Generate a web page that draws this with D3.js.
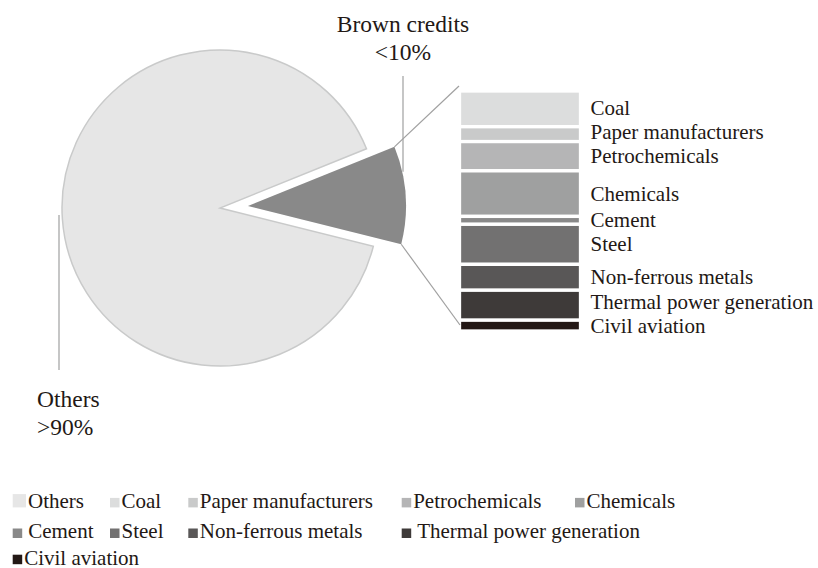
<!DOCTYPE html>
<html>
<head>
<meta charset="utf-8">
<script src="https://cdn.jsdelivr.net/npm/d3@7/dist/d3.min.js"></script>
<style>
  body { margin: 0; background: #fff; }
  text { font-family: "Liberation Serif", "Times New Roman", serif; fill: #231815; }
</style>
</head>
<body>
<div id="chart"></div>
<script>
// Pie slices
var sliceNames = ["Brown credits", "Others"];
var sliceValues = [10, 90];
var sliceShares = ["<10%", ">90%"];

// Breakdown of brown credits (percent of all credits)
var sectorNames = ["Coal", "Paper manufacturers", "Petrochemicals", "Chemicals", "Cement",
  "Steel", "Non-ferrous metals", "Thermal power generation", "Civil aviation"];
var sectorValues = [1.49, 0.62, 1.22, 1.90, 0.33, 1.67, 1.08, 1.25, 0.45];

// Legend entries
var legendNames = ["Others"].concat(sectorNames);

var width = 818, height = 568;

var color = d3.scaleOrdinal()
  .domain(["Others", "Brown credits"].concat(sectorNames))
  .range(["#e6e6e6", "#898989", "#dcdddd", "#c9caca", "#b5b5b6", "#9fa0a0", "#898989",
    "#727171", "#595757", "#3e3a39", "#231815"]);

var svg = d3.select("#chart").append("svg")
  .attr("width", width)
  .attr("height", height);

// Pie geometry
var cx = 220, cy = 208, radius = 158, explode = 28;
var start = 68 * Math.PI / 180;

var pie = d3.pie().sort(null).value(function(d) { return d.value; })
  .startAngle(start).endAngle(start + 2 * Math.PI);
var arc = d3.arc().innerRadius(0).outerRadius(radius);

var pieData = pie(sliceNames.map(function(n, i) {
  return { name: n, value: sliceValues[i], share: sliceShares[i] };
}));

function offset(d) {
  if (d.data.name !== "Brown credits") return [0, 0];
  var a = (d.startAngle + d.endAngle) / 2;
  return [explode * Math.sin(a), -explode * Math.cos(a)];
}

var pieG = svg.append("g").attr("transform", "translate(" + cx + "," + cy + ")");
pieG.selectAll("path").data(pieData).enter().append("path")
  .attr("transform", function(d) { return "translate(" + offset(d) + ")"; })
  .attr("d", arc)
  .attr("fill", function(d) { return color(d.data.name); })
  .attr("stroke", function(d) { return d.data.name === "Others" ? "#c9caca" : "none"; })
  .attr("stroke-width", 1.5);

var brown = pieData[0];
var bOff = offset(brown);
var apexX = cx + bOff[0], apexY = cy + bOff[1];

// Bar of brown credits
var barX = 459.5, barW = 121;
var total = d3.sum(sectorValues);
var yScale = d3.scaleLinear().domain([0, total]).range([91, 331]);
var cum = d3.cumsum(sectorValues);
var segs = sectorNames.map(function(n, i) {
  return { name: n, y0: cum[i] - sectorValues[i], y1: cum[i] };
});

svg.append("g").selectAll("rect").data(segs).enter().append("rect")
  .attr("x", barX)
  .attr("width", barW)
  .attr("y", function(d) { return yScale(d.y0); })
  .attr("height", function(d) { return yScale(d.y1) - yScale(d.y0); })
  .attr("fill", function(d) { return color(d.name); })
  .attr("stroke", "#fff")
  .attr("stroke-width", 3.3);

// Connector lines from slice edges to the bar
function edgePoint(a) {
  return [apexX + radius * Math.sin(a), apexY - radius * Math.cos(a)];
}
var pTop = edgePoint(brown.startAngle), pBot = edgePoint(brown.endAngle);
svg.append("line")
  .attr("x1", pTop[0]).attr("y1", pTop[1])
  .attr("x2", barX - 0.5).attr("y2", yScale(0) - 5)
  .attr("stroke", "#a0a0a0").attr("stroke-width", 1.2);
svg.append("line")
  .attr("x1", pBot[0]).attr("y1", pBot[1])
  .attr("x2", barX + 0.5).attr("y2", yScale(total) - 6)
  .attr("stroke", "#a0a0a0").attr("stroke-width", 1.2);

// Bar labels, pushed up from the bottom when they collide
var labelSize = 21, minGap = 24;
var labelY = segs.map(function(d) { return (yScale(d.y0) + yScale(d.y1)) / 2; });
for (var i = labelY.length - 2; i >= 0; i--) {
  if (labelY[i + 1] - labelY[i] < minGap) labelY[i] = labelY[i + 1] - minGap;
}
svg.append("g").selectAll("text").data(segs).enter().append("text")
  .attr("x", barX + barW + 10)
  .attr("y", function(d, i) { return labelY[i] + labelSize * 0.33; })
  .style("font-size", labelSize + "px")
  .text(function(d) { return d.name; });

// Pie labels with leader lines
var pieLabelSize = 23.5;
var brownLx = 403;
var cosT = (brownLx - apexX) / radius;
var brownArcY = apexY - radius * Math.sqrt(1 - cosT * cosT);
svg.append("line")
  .attr("x1", brownLx).attr("y1", 76)
  .attr("x2", brownLx).attr("y2", brownArcY - 4)
  .attr("stroke", "#9fa0a0").attr("stroke-width", 1.2);
var bText = svg.append("text")
  .attr("x", brownLx).attr("text-anchor", "middle")
  .style("font-size", pieLabelSize + "px");
bText.append("tspan").attr("x", brownLx).attr("y", 32).text(brown.data.name);
bText.append("tspan").attr("x", brownLx).attr("y", 60).text(brown.data.share);

var others = pieData[1];
var othersLx = cx - radius - 3;
svg.append("line")
  .attr("x1", othersLx).attr("y1", cy + 7)
  .attr("x2", othersLx).attr("y2", cy + radius + 4)
  .attr("stroke", "#9fa0a0").attr("stroke-width", 1.2);
var oText = svg.append("text")
  .style("font-size", pieLabelSize + "px");
oText.append("tspan").attr("x", 37).attr("y", 406.5).text(others.data.name);
oText.append("tspan").attr("x", 37).attr("y", 435).text(others.data.share);

// Legend: grid columns, wrapping when an entry would run into the next column
var legendCols = [12.7, 110, 188.3, 401.7, 575];
var legendRowY = [507.7, 538.3, 564.5];
var legendSize = 21;
var legend = svg.append("g");
var row = 0, col = 0, lastEnd = 0;
legendNames.forEach(function(name, i) {
  if (col >= legendCols.length || (col > 0 && legendCols[col] < lastEnd + 8)) {
    row += 1; col = 0; lastEnd = 0;
  }
  var x = legendCols[col], base = legendRowY[row];
  var s = i === 0 ? 13.3 : 9.5;
  var gap = (row === 1 && (col === 0 || col === 3)) ? 6 : 2;
  legend.append("rect")
    .attr("x", x).attr("y", base - s - 0.3)
    .attr("width", s).attr("height", s)
    .attr("fill", color(name));
  var t = legend.append("text")
    .attr("x", x + s + gap).attr("y", base)
    .style("font-size", legendSize + "px")
    .text(name);
  lastEnd = x + s + gap + t.node().getComputedTextLength();
  col += 1;
});
</script>
</body>
</html>
